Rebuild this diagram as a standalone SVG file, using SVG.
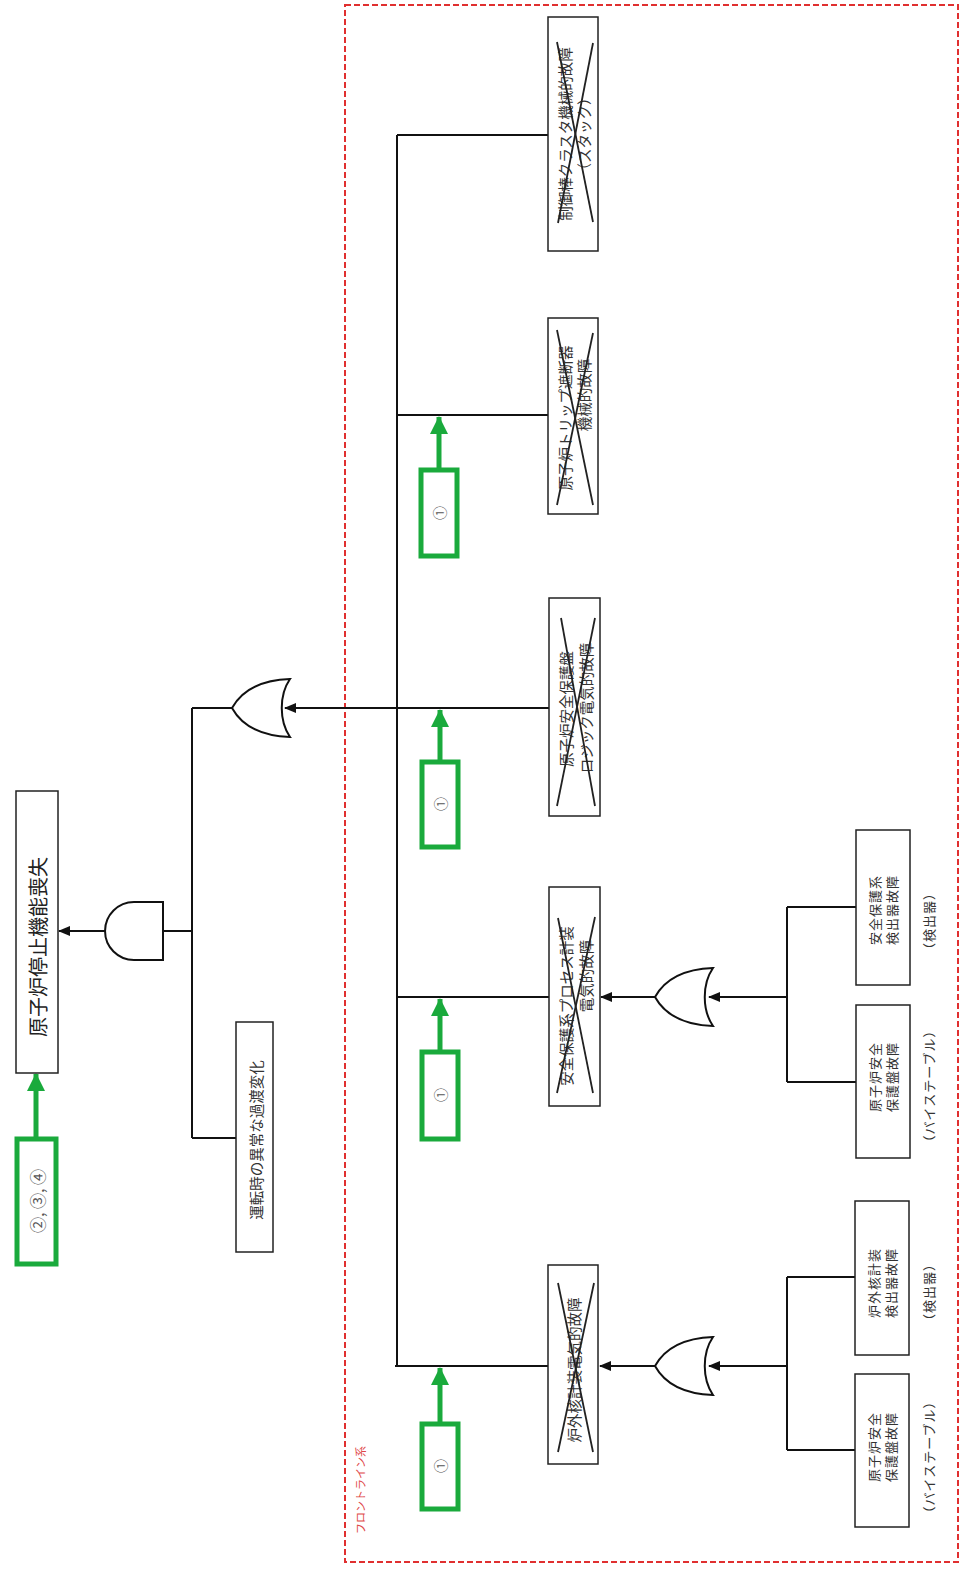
<svg xmlns="http://www.w3.org/2000/svg" width="971" height="1574" viewBox="0 0 971 1574">
<style>
.bx{fill:#fff;stroke:#222;stroke-width:1.5}
.ln{fill:none;stroke:#111;stroke-width:2}
.x{stroke:#222;stroke-width:1.8}
.g{fill:#fff;stroke:#111;stroke-width:2}
.gb{fill:#fff;stroke:#1aaa3c;stroke-width:5}
.ga{stroke:#1aaa3c;stroke-width:5;fill:none}
.t{font-family:"Noto Sans CJK JP","Noto Sans",sans-serif;font-size:14.5px;fill:#333;text-anchor:middle;dominant-baseline:central}
.s{font-size:13px;letter-spacing:1px}
.big{font-size:20px;fill:#222}
.c{font-size:14px;fill:#555}
.c2{font-size:16px;fill:#555}
.red{font-family:"Noto Sans CJK JP","Noto Sans",sans-serif;font-size:11px;fill:#e04848;text-anchor:middle;dominant-baseline:central}
</style>
<defs>
<marker id="ah" viewBox="0 0 12 10" refX="11" refY="5" markerWidth="12" markerHeight="10" markerUnits="userSpaceOnUse" orient="auto">
<path d="M0,0 L12,5 L0,10 Z" fill="#111"/>
</marker>
<marker id="gah" viewBox="0 0 18 18" refX="17" refY="9" markerWidth="18" markerHeight="18" markerUnits="userSpaceOnUse" orient="auto">
<path d="M0,0 L18,9 L0,18 Z" fill="#1aaa3c"/>
</marker>
</defs>

<rect x="345" y="5" width="613" height="1557" fill="none" stroke="#e03030" stroke-width="2" stroke-dasharray="6,3"/>
<text class="red" transform="translate(360,1490) rotate(-90)">フロントライン系</text>

<g id="connectors">
<line class="ln" x1="105" y1="931" x2="59" y2="931" marker-end="url(#ah)"/>
<line class="ln" x1="163" y1="931" x2="192" y2="931"/>
<line class="ln" x1="192" y1="708" x2="192" y2="1138"/>
<line class="ln" x1="192" y1="708" x2="232" y2="708"/>
<line class="ln" x1="192" y1="1138" x2="236" y2="1138"/>
<line class="ln" x1="549" y1="708" x2="285" y2="708" marker-end="url(#ah)"/>
<line class="ln" x1="397" y1="135" x2="397" y2="1366"/>
<line class="ln" x1="397" y1="135" x2="548" y2="135"/>
<line class="ln" x1="397" y1="415" x2="548" y2="415"/>
<line class="ln" x1="397" y1="997" x2="549" y2="997"/>
<line class="ln" x1="395" y1="1366" x2="548" y2="1366"/>
<line class="ln" x1="655" y1="997" x2="601" y2="997" marker-end="url(#ah)"/>
<line class="ln" x1="787" y1="997" x2="709" y2="997" marker-end="url(#ah)"/>
<line class="ln" x1="787" y1="907" x2="787" y2="1082"/>
<line class="ln" x1="787" y1="907" x2="856" y2="907"/>
<line class="ln" x1="787" y1="1082" x2="856" y2="1082"/>
<line class="ln" x1="655" y1="1366" x2="600" y2="1366" marker-end="url(#ah)"/>
<line class="ln" x1="787" y1="1366" x2="709" y2="1366" marker-end="url(#ah)"/>
<line class="ln" x1="787" y1="1277" x2="787" y2="1450"/>
<line class="ln" x1="787" y1="1277" x2="855" y2="1277"/>
<line class="ln" x1="787" y1="1450" x2="855" y2="1450"/>
<line class="ga" x1="36" y1="1138" x2="36" y2="1074" marker-end="url(#gah)"/>
<line class="ga" x1="439" y1="468" x2="439" y2="417" marker-end="url(#gah)"/>
<line class="ga" x1="440" y1="760" x2="440" y2="710" marker-end="url(#gah)"/>
<line class="ga" x1="440" y1="1050" x2="440" y2="999" marker-end="url(#gah)"/>
<line class="ga" x1="440" y1="1422" x2="440" y2="1368" marker-end="url(#gah)"/>
</g>

<g id="and1"><path class="g" d="M163,902 L134,902 A29,29 0 0 0 134,960 L163,960 Z"/></g>
<g id="or1"><path class="g" d="M232,708 C242,690 262,680 290,679 C279,695 279,721 290,737 C262,736 242,726 232,708 Z"/></g>
<g id="or2"><path class="g" d="M655,997 C665,979 685,969 713,968 C702,984 702,1010 713,1026 C685,1025 665,1015 655,997 Z"/></g>
<g id="or3"><path class="g" d="M655,1366 C665,1348 685,1338 713,1337 C702,1353 702,1379 713,1395 C685,1394 665,1384 655,1366 Z"/></g>

<g id="top">
<rect class="bx" x="16" y="791" width="42" height="282"/>
<text class="t big" transform="translate(37,947) rotate(-90)">原子炉停止機能喪失</text>
</g>
<g id="gtop">
<rect class="gb" x="17" y="1139" width="39" height="125"/>
<text class="t c2" transform="translate(37,1201) rotate(-90)">②, ③, ④</text>
</g>
<g id="transient">
<rect class="bx" x="236" y="1022" width="37" height="230"/>
<text class="t" transform="translate(255,1140) rotate(-90)">運転時の異常な過渡変化</text>
</g>

<g id="b1">
<rect class="bx" x="548" y="17" width="50" height="234"/>
<text class="t" transform="translate(564,134) rotate(-90)">制御棒クラスタ機械的故障</text>
<text class="t" transform="translate(583,134) rotate(-90)">（スタック）</text>
<line class="x" x1="557" y1="42" x2="593" y2="222"/>
<line class="x" x1="593" y1="43" x2="558" y2="223"/>
</g>
<g id="b2">
<rect class="bx" x="548" y="318" width="50" height="196"/>
<text class="t" transform="translate(564,418) rotate(-90)">原子炉トリップ遮断器</text>
<text class="t" transform="translate(583,395) rotate(-90)">機械的故障</text>
<line class="x" x1="557" y1="330" x2="593" y2="505"/>
<line class="x" x1="593" y1="333" x2="557" y2="505"/>
</g>
<g id="b3">
<rect class="bx" x="549" y="598" width="51" height="218"/>
<text class="t" transform="translate(565,709) rotate(-90)">原子炉安全保護盤</text>
<text class="t" transform="translate(585,708) rotate(-90)">ロジック電気的故障</text>
<line class="x" x1="561" y1="618" x2="595" y2="806"/>
<line class="x" x1="595" y1="618" x2="557" y2="806"/>
</g>
<g id="b4">
<rect class="bx" x="549" y="887" width="51" height="219"/>
<text class="t" transform="translate(565,1006) rotate(-90)">安全保護系プロセス計装</text>
<text class="t" transform="translate(585,976) rotate(-90)">電気的故障</text>
<line class="x" x1="558" y1="918" x2="593" y2="1093"/>
<line class="x" x1="595" y1="917" x2="557" y2="1093"/>
</g>
<g id="b5">
<rect class="bx" x="548" y="1265" width="50" height="199"/>
<text class="t" transform="translate(573,1370) rotate(-90)">炉外核計装電気的故障</text>
<line class="x" x1="558" y1="1283" x2="593" y2="1452"/>
<line class="x" x1="594" y1="1283" x2="558" y2="1452"/>
</g>

<g id="b6">
<rect class="bx" x="856" y="830" width="54" height="155"/>
<text class="t s" transform="translate(874,910) rotate(-90)">安全保護系</text>
<text class="t s" transform="translate(891,910) rotate(-90)">検出器故障</text>
<text class="t s" transform="translate(928,921) rotate(-90)">（検出器）</text>
</g>
<g id="b7">
<rect class="bx" x="856" y="1005" width="54" height="153"/>
<text class="t s" transform="translate(874,1077) rotate(-90)">原子炉安全</text>
<text class="t s" transform="translate(891,1077) rotate(-90)">保護盤故障</text>
<text class="t s" transform="translate(928,1086) rotate(-90)">（バイステーブル）</text>
</g>
<g id="b8">
<rect class="bx" x="855" y="1201" width="54" height="154"/>
<text class="t s" transform="translate(873,1283) rotate(-90)">炉外核計装</text>
<text class="t s" transform="translate(890,1283) rotate(-90)">検出器故障</text>
<text class="t s" transform="translate(928,1292) rotate(-90)">（検出器）</text>
</g>
<g id="b9">
<rect class="bx" x="855" y="1374" width="54" height="153"/>
<text class="t s" transform="translate(873,1447) rotate(-90)">原子炉安全</text>
<text class="t s" transform="translate(890,1447) rotate(-90)">保護盤故障</text>
<text class="t s" transform="translate(928,1457) rotate(-90)">（バイステーブル）</text>
</g>

<g id="g1"><rect class="gb" x="421" y="470" width="36" height="86"/><text class="t c" transform="translate(439,513) rotate(-90)">①</text></g>
<g id="g2"><rect class="gb" x="422" y="762" width="36" height="85"/><text class="t c" transform="translate(440,804) rotate(-90)">①</text></g>
<g id="g3"><rect class="gb" x="422" y="1052" width="36" height="87"/><text class="t c" transform="translate(440,1095) rotate(-90)">①</text></g>
<g id="g4"><rect class="gb" x="422" y="1424" width="36" height="85"/><text class="t c" transform="translate(440,1466) rotate(-90)">①</text></g>
</svg>
